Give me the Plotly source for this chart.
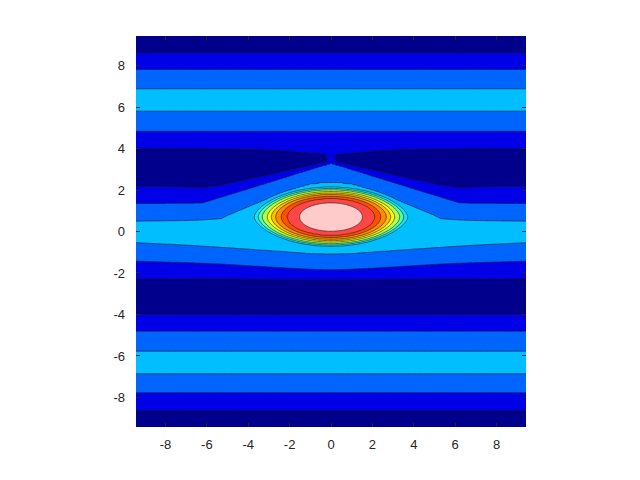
import numpy as np
import plotly.graph_objects as go

# ---- data ----
# columns (|x|) at which the band boundaries were read
col_x = [0, 0.25, 0.5, 1, 1.5, 2, 3, 4, 5, 5.3, 6.2, 7, 9.43]
# y of band boundaries near the bump, per column
low1_y = [-2.31, -2.31, -2.31, -2.31, -2.31, -2.31, -2.3, -2.3, -2.29, -2.29, -2.29, -2.28, -2.28]
low2_y = [-1.85, -1.85, -1.84, -1.82, -1.8, -1.77, -1.71, -1.65, -1.59, -1.57, -1.53, -1.5, -1.43]
low3_y = [-1.1, -1.1, -1.09, -1.07, -1.04, -1.0, -0.93, -0.86, -0.79, -0.77, -0.71, -0.66, -0.54]
up3_y = [2.38, 2.37, 2.36, 2.3, 2.17, 2.0, 1.62, 1.2, 0.78, 0.62, 0.56, 0.53, 0.5]
up2_y = [3.3, 3.22, 3.15, 2.99, 2.84, 2.68, 2.37, 2.06, 1.75, 1.66, 1.38, 1.36, 1.35]
up1_y = [3.36, 3.34, 3.3, 3.18, 3.07, 2.96, 2.73, 2.51, 2.29, 2.22, 2.1, 2.14, 2.18]
up1_z = [1.2, 1, 1, 1, 1, 1, 1, 1, 1, 1, 1, 1, 1]
trough_y = [3.5, 3.46, 3.45, 3.44, 3.43, 3.4, 3.35, 3.3, 3.25, 3.22, 3.18, 3.15, 3.14]
trough_z = [1.1, 0.95, 0.9, 0.75, 0.6, 0.5, 0.4, 0.35, 0.32, 0.3, 0.3, 0.3, 0.3]
top1_y = [3.8, 3.75, 3.75, 3.78, 3.82, 3.87, 3.93, 3.96, 3.98, 3.98, 3.99, 3.99, 3.99]
top1_z = [1.2, 1, 1, 1, 1, 1, 1, 1, 1, 1, 1, 1, 1]
# fixed band boundaries (same in every column)
low_fixed_y = [-9.43, -8.63, -7.77, -6.86, -6.3, -5.77, -4.8, -4.0, -3.14]
low_fixed_z = [0.3, 1, 2, 3, 3.5, 3, 2, 1, 0.3]
peak_y, peak_z = 0.0, 3.5
high_fixed_y = [4.83, 5.8, 6.33, 6.88, 7.81, 8.61, 9.43]
high_fixed_z = [2, 3, 3.5, 3, 2, 1, 0.3]

# nested rings of the central peak
ring_level = [4, 5, 6, 7, 8, 9, 10, 11, 12]
ring_ax = [3.71, 3.52, 3.33, 3.08, 2.89, 2.68, 2.41, 2.12, 1.52]
ring_top = [1.44, 1.375, 1.311, 1.225, 1.16, 1.089, 0.997, 0.898, 0.68]
ring_bot = [1.41, 1.349, 1.288, 1.206, 1.145, 1.077, 0.99, 0.897, 0.69]
ring_q = [1.6, 1.65, 1.7, 1.75, 1.8, 1.85, 1.9, 1.95, 2.0]
ring_cy = 0.7

band_colors = ["#00008c", "#0000e8", "#0064ff", "#00beff", "#10e6f8", "#55ffaa",
               "#b4ff4c", "#ffff00", "#ffc000", "#ff8a00", "#ff5000", "#ff4646", "#ffcaca"]
tick_vals = [-8, -6, -4, -2, 0, 2, 4, 6, 8]
tick_text = ["-8", "-6", "-4", "-2", "0", "2", "4", "6", "8"]

# ---- build field ----
lim = 3 * np.pi
xs = np.linspace(-lim, lim, 321)
ys = np.linspace(-lim, lim, 321)
X, Y = np.meshgrid(xs, ys)

outer = np.zeros_like(X)
for j, xv in enumerate(xs):
    ax_ = abs(xv)
    f = lambda arr: float(np.interp(ax_, col_x, arr))
    ky = (list(low_fixed_y) + [f(low1_y), f(low2_y), f(low3_y), peak_y, f(up3_y), f(up2_y),
                               f(up1_y), f(trough_y), f(top1_y)] + list(high_fixed_y))
    kz = (list(low_fixed_z) + [1, 2, 3, peak_z, 3, 2, f(up1_z), f(trough_z), f(top1_z)]
          + list(high_fixed_z))
    outer[:, j] = np.interp(ys, ky, kz)

V = Y - ring_cy
D = []
for a, tp, bt, q in zip(ring_ax, ring_top, ring_bot, ring_q):
    b = np.where(V > 0, tp, bt)
    D.append((X / a) ** 2 + np.abs(V / b) ** q)
core = 4 - (D[0] - 1) * 8
for i in range(len(ring_level) - 1):
    d0, d1 = D[i], D[i + 1]
    m = (d0 <= 1) & (d1 > 1)
    frac = (1 - d0) / np.maximum(d1 - d0, 1e-9)
    core = np.where(m, ring_level[i] + frac, core)
core = np.where(D[-1] <= 1, ring_level[-1] + (1 - D[-1]) * 2, core)
Z = np.maximum(outer, core)

n = len(band_colors) - 1
cs = []
for k, c in enumerate(band_colors):
    cs.append([max(0.0, (k - 0.5) / n), c])
    cs.append([min(1.0, (k + 0.5) / n), c])

fig = go.Figure(go.Contour(
    x=xs, y=ys, z=Z,
    contours=dict(start=1, end=12, size=1, coloring="fill", showlines=True),
    line=dict(color="#1a1a1a", width=0.6),
    colorscale=cs, showscale=False, hoverinfo="skip",
))

axis_common = dict(
    range=[-lim, lim], showgrid=False, zeroline=False, showline=False,
    ticks="inside", ticklen=4, tickcolor="#262626", mirror="ticks",
    tickvals=tick_vals, ticktext=tick_text,
    tickfont=dict(family="Liberation Sans, Arial, sans-serif", size=13, color="#262626"),
)
fig.update_layout(
    width=624, height=464, autosize=False,
    margin=dict(l=128, r=106, t=28, b=45),
    paper_bgcolor="white", plot_bgcolor="white",
    xaxis=dict(axis_common, ticklabelstandoff=8),
    yaxis=dict(axis_common, ticklabelstandoff=10),
)
fig.write_html("out.html")
